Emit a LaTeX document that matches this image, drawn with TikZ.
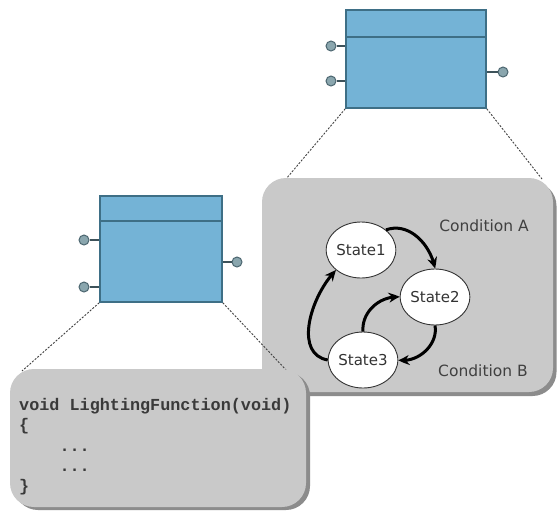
\documentclass[tikz,border=0pt]{standalone}
\usepackage{fontspec}
\setsansfont{DejaVu Sans}
\newfontfamily\codefont{Liberation Mono}
\usetikzlibrary{arrows.meta,bending,shapes.geometric}
\definecolor{blockfill}{HTML}{74B3D6}
\definecolor{blockedge}{HTML}{3E6F86}
\definecolor{pinfill}{HTML}{8AA6AE}
\definecolor{pinedge}{HTML}{4C6670}
\definecolor{panelfill}{HTML}{C9C9C9}
\definecolor{panelshade}{HTML}{8C8C8C}
\definecolor{codetext}{HTML}{3A3A3A}
\tikzset{
  block/.style={draw=blockedge, line width=1.6pt, fill=blockfill, inner sep=0pt},
  pinball/.style={circle, draw=pinedge, line width=1pt, fill=pinfill, minimum size=10pt, inner sep=0pt},
  stub/.style={draw=pinedge!80!black, line width=1.4pt},
  panel/.style={fill=panelfill, rounded corners=24pt, inner sep=0pt},
  shade/.style={fill=panelshade, rounded corners=24pt, inner sep=0pt},
  zoomline/.style={draw=black!75, line width=0.9pt, dash pattern=on 2pt off 1.5pt},
  state/.style={ellipse, draw=black!80, line width=0.9pt, fill=white, inner sep=0pt,
    minimum width=66pt, minimum height=56pt, font=\sffamily\fontsize{15}{17}\selectfont, text=black!80},
  trans/.style={line width=3pt, -{Stealth[length=11pt,width=10pt,bend]}},
  cond/.style={font=\sffamily\fontsize{15.5}{17}\selectfont, text=black!75},
  code/.style={anchor=base west, inner sep=0pt, font=\codefont\bfseries\fontsize{16.8}{20}\selectfont, text=codetext},
}
\begin{document}
\begin{tikzpicture}[x=1pt,y=-1pt]
\useasboundingbox[fill=white] (0,0) rectangle (559,512);

% zoom lines from the upper block to the state machine panel
\coordinate (zA) at (286,179);
\coordinate (zB) at (542,179);
\node[block, minimum width=140pt, minimum height=98pt] (top) at (416,59) {};
\draw[zoomline] (top.south west) -- (zA);
\draw[zoomline] (top.south east) -- (zB);

% state machine panel
\node[shade, minimum width=291pt, minimum height=214pt] (smshade) at (411,289) {};
\node[panel, minimum width=291pt, minimum height=214pt] (sm) at (407.5,285) {};

% upper block with its pins
\node[block, minimum width=140pt, minimum height=98pt] (top) at (416,59) {};
\draw[blockedge, line width=2.4pt] ([yshift=-28pt]top.north west) -- ([yshift=-28pt]top.north east);
\node[pinball] (tp1) at (331,46) {};
\node[pinball] (tp2) at (331,81) {};
\node[pinball] (tp3) at (503,72) {};
\draw[stub] (tp1) -- (tp1 -| top.west);
\draw[stub] (tp2) -- (tp2 -| top.west);
\draw[stub] (tp3) -- (tp3 -| top.east);

% states and transitions
\node[state] (s1) at (361,250) {State1};
\node[state] (s2) at (435,297) {State2};
\node[state] (s3) at (363,360) {State3};
\node[cond] (ca) at (484,226) {Condition A};
\node[cond] (cb) at (483,371) {Condition B};
\draw[trans] (s1.north east) to[out=20, in=100] (s2.north);
\draw[trans] (s2.south) to[out=-80, in=-10] (s3.east);
\draw[trans] (s3.west) to[out=170, in=225] (s1.south west);
\draw[trans] (s3.north) to[out=95, in=175] (s2.west);

% lower block with its pins and zoom lines
\node[block, minimum width=122pt, minimum height=106pt] (low) at (161,249) {};
\draw[blockedge, line width=2.4pt] ([yshift=-26pt]low.north west) -- ([yshift=-26pt]low.north east);
\node[pinball] (lp1) at (84,240) {};
\node[pinball] (lp2) at (84,287) {};
\node[pinball] (lp3) at (237,262) {};
\draw[stub] (lp1) -- (lp1 -| low.west);
\draw[stub] (lp2) -- (lp2 -| low.west);
\draw[stub] (lp3) -- (lp3 -| low.east);
\coordinate (zC) at (22,371);
\coordinate (zD) at (288,372);
\draw[zoomline] (low.south west) -- (zC);
\draw[zoomline] (low.south east) -- (zD);

% code panel
\node[shade, minimum width=296pt, minimum height=138pt] (cdshade) at (162,441) {};
\node[panel, minimum width=296pt, minimum height=138pt] (cd) at (158,438) {};
\node[code] (c1) at (19,410) {void LightingFunction(void)};
\node[code] (c2) at (19,430) {\{};
\node[code] (c3) at (19,451) {\ \ \ \ ...};
\node[code] (c4) at (19,471) {\ \ \ \ ...};
\node[code] (c5) at (19,491) {\}};
\end{tikzpicture}
\end{document}
